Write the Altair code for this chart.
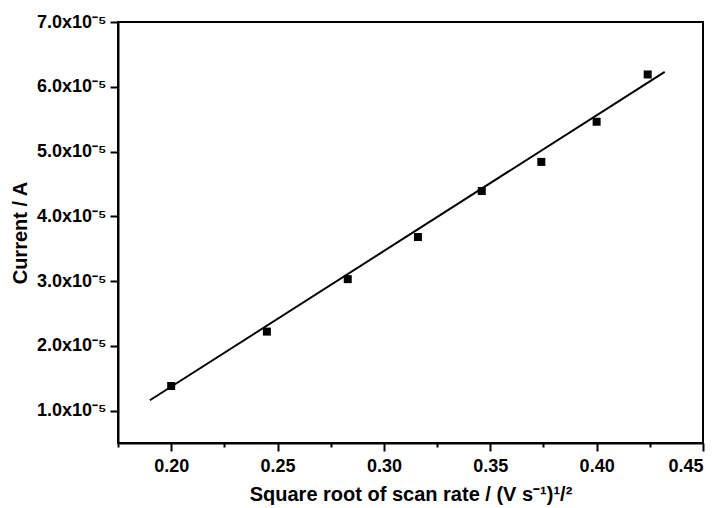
import altair as alt
import pandas as pd

# data
sqrt_scan_rate = [0.200, 0.245, 0.283, 0.316, 0.346, 0.374, 0.400, 0.424]
current = [1.38e-5, 2.22e-5, 3.03e-5, 3.68e-5, 4.39e-5, 4.84e-5, 5.46e-5, 6.19e-5]
# linear fit line end points, as drawn in the reference
fit_x = [0.190, 0.432]
fit_y = [1.16e-5, 6.23e-5]

x_ticks = [0.175, 0.20, 0.225, 0.25, 0.275, 0.30, 0.325, 0.35, 0.375, 0.40, 0.425, 0.45]
y_ticks = [1.0e-5, 1.5e-5, 2.0e-5, 2.5e-5, 3.0e-5, 3.5e-5, 4.0e-5, 4.5e-5,
           5.0e-5, 5.5e-5, 6.0e-5, 6.5e-5, 7.0e-5]

df = pd.DataFrame({"x": sqrt_scan_rate, "y": current})
df_fit = pd.DataFrame({"x": fit_x, "y": fit_y})

FONT = "Liberation Sans"

x_scale = alt.Scale(domain=[0.175, 0.45], nice=False, zero=False)
y_scale = alt.Scale(domain=[0.5e-5, 7.0e-5], nice=False, zero=False)

x_major = "abs(datum.value*20 - round(datum.value*20)) < 1e-6"
y_major = "abs(datum.value*1e5 - round(datum.value*1e5)) < 1e-6"

x_axis = alt.Axis(
    title="Square root of scan rate / (V s⁻¹)¹/²",
    values=x_ticks,
    labelExpr=f"({x_major}) ? format(datum.value, '.2f') : ''",
    tickSize={"condition": {"test": x_major, "value": 8}, "value": 4},
    tickWidth=2, tickColor="black",
    domainColor="black", domainWidth=2,
    labelFont=FONT, labelFontSize=18, labelFontWeight="bold", labelColor="black",
    labelPadding=6,
    titleFont=FONT, titleFontSize=20, titleFontWeight="bold", titleColor="black",
    titlePadding=9,
    grid=False,
)
y_axis = alt.Axis(
    title="Current / A",
    values=y_ticks,
    labelExpr=f"({y_major}) ? format(datum.value*1e5, '.1f') + 'x10⁻⁵' : ''",
    tickSize={"condition": {"test": y_major, "value": 8}, "value": 4},
    tickWidth=2, tickColor="black",
    domainColor="black", domainWidth=2,
    labelFont=FONT, labelFontSize=18, labelFontWeight="bold", labelColor="black",
    labelPadding=4,
    titleFont=FONT, titleFontSize=20, titleFontWeight="bold", titleColor="black",
    titlePadding=6,
    grid=False,
)

points = alt.Chart(df).mark_point(shape="square", filled=True, color="black", size=64, opacity=1).encode(
    x=alt.X("x:Q", scale=x_scale, axis=x_axis),
    y=alt.Y("y:Q", scale=y_scale, axis=y_axis),
)

fit = alt.Chart(df_fit).mark_line(color="black", strokeWidth=2).encode(
    x=alt.X("x:Q", scale=x_scale),
    y=alt.Y("y:Q", scale=y_scale),
)

chart = (fit + points).properties(
    width=585, height=421,
    autosize=alt.AutoSizeParams(type="none"),
    padding={"left": 118, "top": 22, "right": 24, "bottom": 65},
    background="white",
).configure_view(stroke="black", strokeWidth=2)

chart.save("out.html", embed_options={"renderer": "svg", "actions": False})
